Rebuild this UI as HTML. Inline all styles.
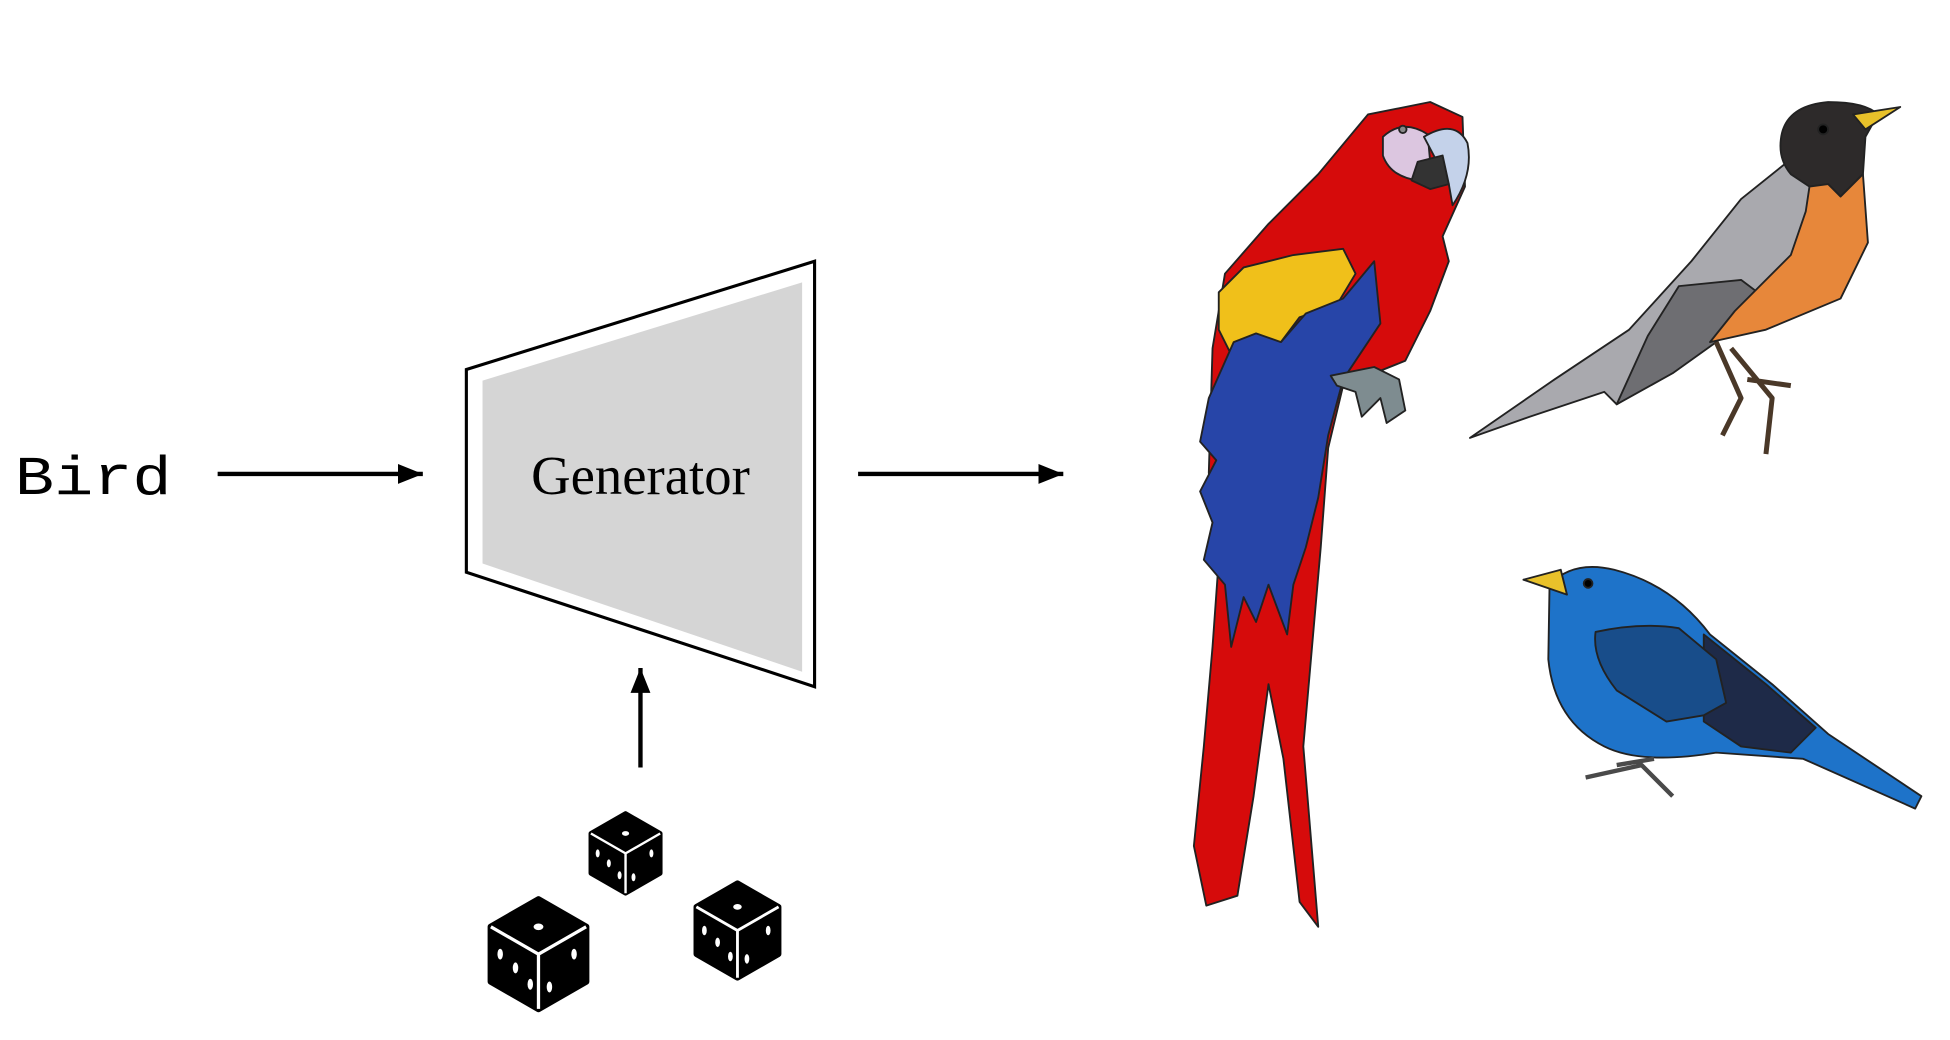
<!DOCTYPE html>
<html><head><meta charset="utf-8"><style>
html,body{margin:0;padding:0;background:#fff;width:1950px;height:1040px;overflow:hidden}
svg{display:block}
</style></head><body>
<svg width="1950" height="1040" viewBox="0 0 1568 836" preserveAspectRatio="none" xmlns="http://www.w3.org/2000/svg">
<defs>
<marker id="ah" markerWidth="22" markerHeight="20" refX="20" refY="10" orient="auto" markerUnits="userSpaceOnUse"><path d="M0,2 L20,10 L0,18 Z" fill="#000"/></marker>
<g id="die">
<path d="M0,-1 L0.87,-0.5 L0.87,0.5 L0,1 L-0.87,0.5 L-0.87,-0.5 Z" fill="#000" stroke="#000" stroke-width="0.12" stroke-linejoin="round"/>
<path d="M0,0 L0,1 M0,0 L-0.87,-0.5 M0,0 L0.87,-0.5" stroke="#fff" stroke-width="0.06"/>
<ellipse cx="0" cy="-0.5" rx="0.09" ry="0.06" fill="#fff"/>
<ellipse cx="-0.7" cy="0" rx="0.05" ry="0.1" fill="#fff"/>
<ellipse cx="-0.15" cy="0.55" rx="0.05" ry="0.1" fill="#fff"/>
<ellipse cx="-0.42" cy="0.25" rx="0.05" ry="0.1" fill="#fff"/>
<ellipse cx="0.65" cy="0" rx="0.05" ry="0.1" fill="#fff"/>
<ellipse cx="0.2" cy="0.6" rx="0.05" ry="0.1" fill="#fff"/>
</g>
</defs>
<text x="12" y="397" font-family="Liberation Mono, monospace" font-size="44" textLength="126" lengthAdjust="spacingAndGlyphs">Bird</text>
<line x1="175" y1="381" x2="340" y2="381" stroke="#000" stroke-width="3.5" marker-end="url(#ah)"/>
<polygon points="375,297 655,210 655,552 375,460" fill="#fff" stroke="#000" stroke-width="2.5"/>
<polygon points="388,306 645,227 645,540 388,453" fill="#d5d5d5"/>
<text x="515" y="397" text-anchor="middle" font-family="Liberation Serif, serif" font-size="44">Generator</text>
<line x1="690" y1="381" x2="855" y2="381" stroke="#000" stroke-width="3.5" marker-end="url(#ah)"/>
<line x1="515" y1="617" x2="515" y2="537" stroke="#000" stroke-width="3.5" marker-end="url(#ah)"/>
<use href="#die" transform="translate(503,686) scale(32)"/>
<use href="#die" transform="translate(433,767) scale(44)"/>
<use href="#die" transform="translate(593,748) scale(38)"/>
<!-- parrot -->
<g stroke="#222" stroke-width="1.5" stroke-linejoin="round">
<path d="M1100,92 L1150,82 L1176,94 L1178,150 L1160,190 L1165,210 L1150,250 L1130,290 L1080,310 L1068,360 L1062,440 L1055,520 L1048,600 L1060,745 L1045,725 L1032,610 L1020,550 L1008,640 L995,720 L970,728 L960,680 L968,600 L975,520 L980,450 L972,380 L975,280 L985,220 L1020,180 L1060,140 Z" fill="#d60b0b"/>
<path d="M980,235 L1000,215 L1040,205 L1080,200 L1090,220 L1075,245 L1045,255 L1030,275 L1005,270 L990,285 L980,265 Z" fill="#f0c01a"/>
<path d="M992,275 L1010,268 L1030,275 L1050,252 L1080,240 L1105,210 L1110,260 L1080,305 L1068,350 L1060,400 L1050,440 L1040,470 L1035,510 L1020,470 L1010,500 L1000,480 L990,520 L985,470 L968,450 L975,420 L965,395 L978,370 L965,355 L972,320 Z" fill="#2745a8"/>
<path d="M1112,110 Q1128,95 1148,108 L1150,130 L1140,145 Q1118,142 1112,125 Z" fill="#dcc6e0"/>
<path d="M1145,110 Q1170,95 1180,115 Q1185,140 1168,165 L1165,148 Z" fill="#c4d2ea"/>
<path d="M1140,130 L1160,125 L1165,148 L1150,152 L1135,145 Z" fill="#333" />
<circle cx="1128" cy="104" r="3" fill="#888"/>
<path d="M1070,302 L1105,295 L1125,305 L1130,330 L1115,340 L1110,320 L1095,335 L1090,315 L1075,310 Z" fill="#7e8c90"/>
</g>
<!-- robin -->
<g stroke="#222" stroke-width="1.5" stroke-linejoin="round">
<path d="M1182,352 L1250,305 L1310,265 L1360,210 L1400,160 L1440,128 L1470,140 L1460,200 L1420,240 L1380,275 L1340,300 L1300,325 L1290,315 L1230,335 Z" fill="#a9a9ae"/>
<path d="M1300,325 L1325,270 L1350,230 L1400,225 L1420,240 L1380,275 L1345,300 Z" fill="#6e6e72"/>
<path d="M1432,112 Q1435,85 1470,82 Q1500,82 1510,92 L1500,110 L1498,140 L1480,158 L1470,148 L1455,150 L1440,140 Q1430,128 1432,112 Z" fill="#2d2a2a"/>
<path d="M1490,92 L1528,86 L1500,104 Z" fill="#e8c12a"/>
<circle cx="1466" cy="104" r="4" fill="#000"/>
<path d="M1455,150 L1470,148 L1480,158 L1498,140 L1502,195 L1480,240 L1420,265 L1375,275 L1395,250 L1440,205 L1452,170 Z" fill="#e7873a"/>
<path d="M1380,275 L1400,320 L1385,350 M1392,280 L1425,320 L1420,365 M1405,305 L1440,310" stroke="#4a3828" stroke-width="4" fill="none"/>
</g>
<!-- blue bird -->
<g stroke="#222" stroke-width="1.5" stroke-linejoin="round">
<path d="M1246,470 Q1265,450 1298,458 Q1345,470 1375,510 L1425,550 L1470,590 L1545,640 L1540,650 L1450,610 L1380,605 Q1320,615 1290,600 Q1250,580 1245,530 Z" fill="#1e73c9"/>
<path d="M1370,510 L1420,550 L1460,585 L1440,605 L1400,600 L1370,580 Z" fill="#1e2a48"/>
<path d="M1283,508 Q1320,500 1350,505 L1380,530 L1388,565 L1370,575 L1340,580 L1300,555 Q1280,530 1283,508 Z" fill="#184d8a"/>
<path d="M1225,466 L1255,458 L1260,478 Z" fill="#e8c12a"/>
<circle cx="1277" cy="469" r="3.5" fill="#000"/>
<path d="M1275,625 L1320,615 L1345,640 M1300,615 L1330,610" stroke="#4a4a4a" stroke-width="3.5" fill="none"/>
</g>
</svg>
</body></html>
